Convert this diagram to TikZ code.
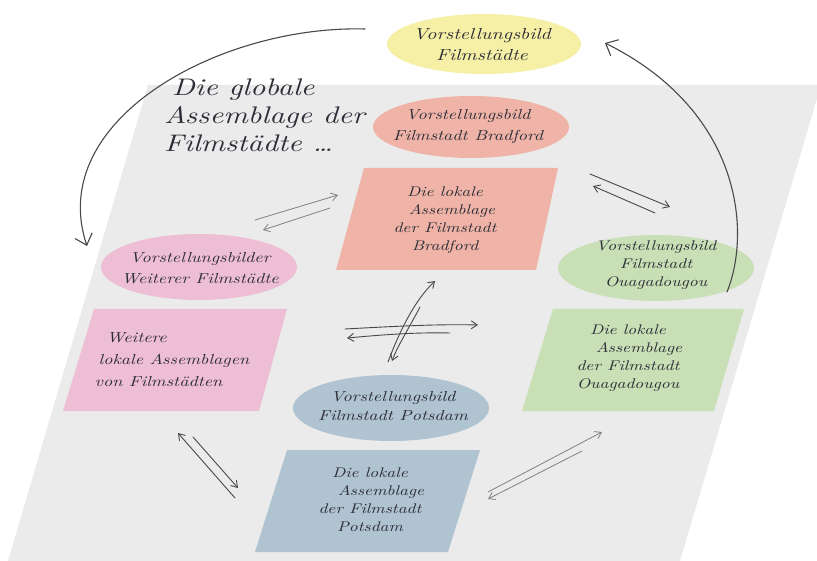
\documentclass[tikz,border=0pt]{standalone}
\usepackage{fontspec}
\usetikzlibrary{arrows.meta,shapes.geometric}
\newfontfamily\hand{lmroman10-italic.otf}[FakeStretch=1.25]
\definecolor{bggrey}{HTML}{EBEBEB}
\definecolor{cyellow}{HTML}{F6F0A6}
\definecolor{csalmon}{HTML}{EFB4A7}
\definecolor{cpink}{HTML}{EEBED4}
\definecolor{cgreen}{HTML}{C9DFB6}
\definecolor{cblue}{HTML}{AFC3D1}
\definecolor{inkc}{HTML}{2E2E38}
\definecolor{arrdark}{HTML}{48484D}
\definecolor{arrlight}{HTML}{85858A}
\begin{document}
\begin{tikzpicture}[x=1pt,y=-1pt,
  txt/.style={font=\hand\fontsize{14}{18}\selectfont, text=inkc, align=center, inner sep=0pt},
  bigtxt/.style={font=\hand\fontsize{24}{28}\selectfont, text=inkc, align=left, inner sep=0pt},
  ellnode/.style={ellipse, inner sep=0pt, minimum width=196pt, minimum height=62pt},
  arr/.style={draw=arrdark, line width=0.9pt, line cap=round, -{Straight Barb[length=6pt,width=8pt]}},
  arrl/.style={draw=arrlight, line width=0.85pt, line cap=round, -{Straight Barb[length=6pt,width=8pt]}},
  bigarr/.style={draw=arrdark, line width=1.1pt, line cap=round, -{Straight Barb[length=10pt,width=18pt]}}]
\useasboundingbox (0,0) rectangle (817,561);
\fill[white] (0,0) rectangle (817,561);
% grey plane
\fill[bggrey] (148,85) -- (821,85) -- (680,561) -- (8,561) -- cycle;

% parallelogram boxes
\fill[csalmon] (364,168) -- (558,168) -- (536,270) -- (336,270) -- cycle;
\fill[cpink]   (94,309) -- (287,309) -- (259,411) -- (63,411) -- cycle;
\fill[cgreen]  (553,309) -- (744,309) -- (714,411) -- (522,411) -- cycle;
\fill[cblue]   (287,450) -- (480,450) -- (448,552) -- (255,552) -- cycle;

% ellipses
\node[ellnode, fill=cyellow, minimum width=194pt, minimum height=60pt] (yelE) at (484,44) {};
\node[ellnode, fill=csalmon] (bradE) at (471,127) {};
\node[ellnode, fill=cpink, minimum height=66pt] (weitE) at (199,267) {};
\node[ellnode, fill=cgreen, minimum height=66pt] (ouaE) at (656,268) {};
\node[ellnode, fill=cblue, minimum height=66pt] (potE) at (391,408) {};

% texts
\node[txt, font=\hand\fontsize{16}{21}\selectfont] (yelT) at (482,45) {Vorstellungsbild\\Filmstädte};
\node[txt, font=\hand\fontsize{14.5}{21}\selectfont] (bradT) at (468,126) {Vorstellungsbild\\Filmstadt Bradford};
\node[txt] (bradB) at (445,220) {Die lokale\\\hspace*{14pt}Assemblage\\der Filmstadt\\Bradford};
\node[txt, font=\hand\fontsize{14.5}{21}\selectfont] (weitT) at (200,268) {Vorstellungsbilder\\Weiterer Filmstädte};
\node[txt, align=left, font=\hand\fontsize{14.5}{22}\selectfont] (weitB) at (172,360) {\hspace*{12pt}Weitere\\\hspace*{4pt}lokale Assemblagen\\von Filmstädten};
\node[txt] (ouaT) at (656,265) {Vorstellungsbild\\Filmstadt\\Ouagadougou};
\node[txt] (ouaB) at (628,358) {Die lokale\\\hspace*{22pt}Assemblage\\der Filmstadt\\Ouagadougou};
\node[txt, font=\hand\fontsize{14.5}{19}\selectfont] (potT) at (393,406) {Vorstellungsbild\\Filmstadt Potsdam};
\node[txt] (potB) at (370,500) {Die lokale\\\hspace*{22pt}Assemblage\\der Filmstadt\\Potsdam};
\node[bigtxt, anchor=west] (globT) at (164,115) {\hspace*{8pt}Die globale\\Assemblage der\\Filmstädte \dots};

% coordinates for connectors
\coordinate (c1s) at (365,29);   \coordinate (c1e) at (87,246);
\coordinate (c2s) at (727,292);  \coordinate (c2e) at (605,43);
\coordinate (bo1s) at (590,174); \coordinate (bo1e) at (670,207);
\coordinate (bo2s) at (655,213); \coordinate (bo2e) at (593,186);
\coordinate (bw1s) at (255,220); \coordinate (bw1e) at (338,195);
\coordinate (bw2s) at (330,208); \coordinate (bw2e) at (263,230);
\coordinate (h1s) at (345,329);  \coordinate (h1e) at (478,325);
\coordinate (h2s) at (450,333);  \coordinate (h2e) at (347,338);
\coordinate (v1s) at (388,362);  \coordinate (v1e) at (435,281);
\coordinate (v2s) at (420,307);  \coordinate (v2e) at (392,361);
\coordinate (wp1s) at (235,498); \coordinate (wp1e) at (178,433);
\coordinate (wp2s) at (193,437); \coordinate (wp2e) at (238,488);
\coordinate (op1s) at (488,492); \coordinate (op1e) at (602,432);
\coordinate (op2s) at (582,451); \coordinate (op2e) at (488,499);

% big curved arrows
\draw[bigarr] (c1s) .. controls (220,25) and (45,120) .. (c1e);
\draw[bigarr] (c2s) .. controls (752,230) and (740,110) .. (c2e);

% paired arrows
\draw[arr] (bo1s) -- (bo1e);
\draw[arr] (bo2s) -- (bo2e);
\draw[arrl] (bw1s) -- (bw1e);
\draw[arrl] (bw2s) -- (bw2e);
\draw[arr] (h1s) .. controls (400,326) and (440,324) .. (h1e);
\draw[arr] (h2s) .. controls (410,332) and (370,336) .. (h2e);
\draw[arr] (v1s) .. controls (400,330) and (415,300) .. (v1e);
\draw[arr] (v2s) .. controls (408,330) and (398,345) .. (v2e);
\draw[arr] (wp1s) -- (wp1e);
\draw[arr] (wp2s) -- (wp2e);
\draw[arrl] (op1s) -- (op1e);
\draw[arrl] (op2s) -- (op2e);
\end{tikzpicture}
\end{document}
